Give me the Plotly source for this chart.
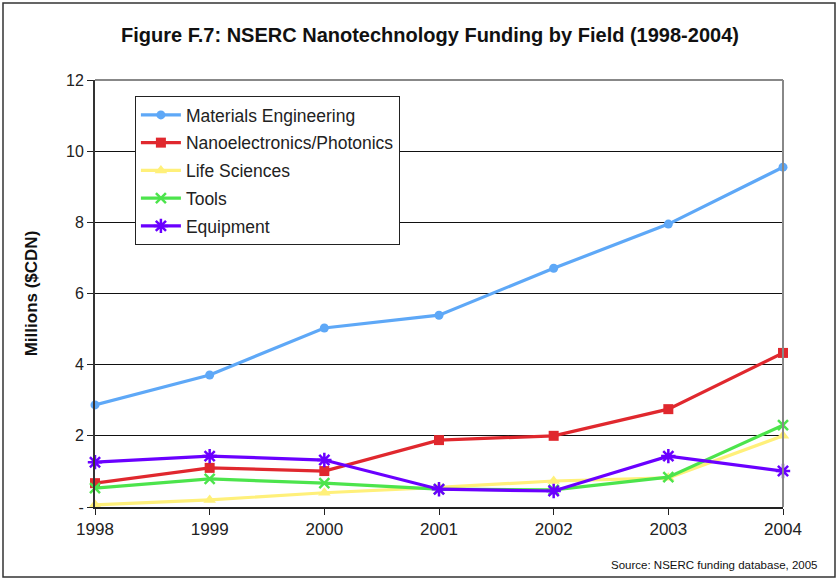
import plotly.graph_objects as go

years = [1998, 1999, 2000, 2001, 2002, 2003, 2004]
materials = [2.87, 3.71, 5.03, 5.39, 6.71, 7.95, 9.55]
nano = [0.67, 1.10, 1.01, 1.88, 2.00, 2.75, 4.33]
life = [0.06, 0.20, 0.40, 0.55, 0.73, 0.82, 2.00]
tools = [0.53, 0.79, 0.67, 0.50, 0.48, 0.84, 2.30]
equipment = [1.26, 1.43, 1.32, 0.50, 0.45, 1.43, 1.01]
y_tickvals = [0, 2, 4, 6, 8, 10, 12]
y_ticktext = ["-", "2", "4", "6", "8", "10", "12"]

series = [
    ("Materials Engineering", materials, "#5ea8f7", dict(symbol="circle", size=9)),
    ("Nanoelectronics/Photonics", nano, "#e0282e", dict(symbol="square", size=10)),
    ("Life Sciences", life, "#fff07a", dict(symbol="triangle-up", size=11)),
    ("Tools", tools, "#4ce44c", dict(symbol="x-thin-open", size=10, line=dict(width=2.5, color="#4ce44c"))),
    ("Equipment", equipment, "#6a00ff", dict(symbol="asterisk-open", size=12, line=dict(width=2.5, color="#6a00ff"))),
]

fig = go.Figure()
for i, (name, vals, color, mk) in enumerate(series):
    mk = dict(mk)
    mk["color"] = color
    fig.add_trace(go.Scatter(
        x=years, y=vals, name=name, mode="lines+markers", legendgroup=f"g{i}",
        line=dict(color=color, width=3.2), marker=mk, cliponaxis=False,
    ))

fig.update_layout(
    width=840, height=580,
    margin=dict(l=95, r=57, t=80, b=73),
    paper_bgcolor="white", plot_bgcolor="white",
    font=dict(family="Liberation Sans, Arial, sans-serif", color="#222222"),
    title=dict(text="<b>Figure F.7: NSERC Nanotechnology Funding by Field (1998-2004)</b>",
               x=430 / 840, xanchor="center", y=1 - 35 / 580, yanchor="middle",
               font=dict(size=20, color="#111111")),
    showlegend=True,
    legend=dict(x=0.058, y=0.9625, xanchor="left", yanchor="top",
                bgcolor="white", bordercolor="#222222", borderwidth=1,
                font=dict(size=17.5, color="#222222"), tracegroupgap=2, itemwidth=40),
    shapes=[
        dict(type="rect", xref="paper", yref="paper", x0=-92 / 688, x1=1 + 52 / 688,
             y0=-70 / 427, y1=1 + 77 / 427, line=dict(color="#333333", width=1.5)),
        dict(type="line", xref="paper", yref="paper", x0=0, x1=1, y0=1, y1=1,
             line=dict(color="#888888", width=2)),
        dict(type="line", xref="paper", yref="paper", x0=1, x1=1, y0=0, y1=1,
             line=dict(color="#888888", width=2)),
    ],
    annotations=[
        dict(text="Source: NSERC funding database, 2005", xref="paper", yref="paper",
             x=1 + 37 / 688, y=-58 / 427, xanchor="right", yanchor="middle",
             showarrow=False, font=dict(size=11.5, color="#111111")),
    ],
)

fig.update_xaxes(
    range=[1998, 2004], tickvals=years, ticktext=[str(y) for y in years],
    showgrid=False, zeroline=False, showline=True, linecolor="#222222", linewidth=2,
    ticks="outside", ticklen=6, tickcolor="#222222", tickfont=dict(size=17, color="#222222"),
)
fig.update_yaxes(
    range=[0, 12], tickvals=y_tickvals, ticktext=y_ticktext,
    showgrid=True, gridcolor="#111111", gridwidth=1, zeroline=False,
    showline=True, linecolor="#333333", linewidth=2,
    ticks="outside", ticklen=6, tickcolor="#222222", tickfont=dict(size=16, color="#222222"),
    title=dict(text="<b>Millions (&#36;CDN)</b>", font=dict(size=17, color="#111111"), standoff=24),
)

fig.write_html("out.html", config={"displayModeBar": False},
               post_script="document.body.style.margin='0';")
